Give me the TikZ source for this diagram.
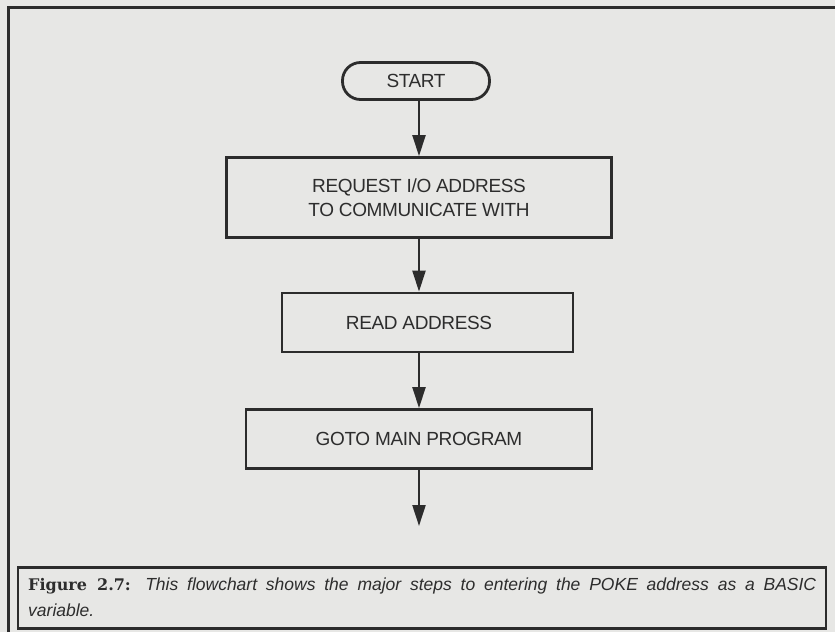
\documentclass[tikz,border=0pt]{standalone}
\usepackage{fontspec}
\setmainfont{Liberation Sans}
\newfontfamily\boxfont[LetterSpace=-2]{Liberation Sans}
\newfontfamily\capserif{DejaVu Serif}
\usetikzlibrary{arrows.meta}
\definecolor{paper}{RGB}{231,231,229}
\definecolor{ink}{RGB}{44,44,44}
\definecolor{txt}{RGB}{45,45,45}
\begin{document}
\begin{tikzpicture}[x=1pt,y=-1pt,
  box/.style={draw=ink, line width=2.8pt, fill=paper, text=txt,
    font=\boxfont\fontsize{19}{24}\selectfont, align=center, inner sep=0pt},
  flow/.style={draw=ink, line width=2.2pt, -{Triangle[length=21pt,width=13pt]}},
  capbox/.style={draw=ink, line width=2.2pt, minimum width=808pt, minimum height=61pt, inner sep=0pt},
]
\fill[paper] (0,0) rectangle (835,632);
\useasboundingbox (0,0) rectangle (835,632);
\draw[ink, line width=2.2pt] (8.5,632) -- (8.5,7.5) -- (835,7.5);
\node[box, rounded corners=18pt, minimum width=147pt, minimum height=37pt] (start) at (416,81) {START};
\node[box, minimum width=385pt, minimum height=80pt] (request) at (419,197.5) {REQUEST I/O ADDRESS\\TO COMMUNICATE WITH};
\node[box, minimum width=291pt, minimum height=59pt] (read) at (427.5,322.5) {\kern-17pt READ ADDRESS};
\node[box, minimum width=346pt, minimum height=59pt] (goto) at (419,439) {GOTO MAIN PROGRAM};
\coordinate (out) at (419,526);
\draw[flow] (request.north |- start.south) -- (request.north);
\draw[flow] (request.south) -- (request.south |- read.north);
\draw[flow] (goto.north |- read.south) -- (goto.north);
\draw[flow] (goto.south) -- (out);
\node[capbox] (capbox) at (422,598) {};
\node[anchor=base west, inner sep=0pt, text=txt] (captext) at (28,590)
  {\parbox[t]{788pt}{\fontsize{17.5}{26}\selectfont{\capserif\bfseries\fontsize{16}{26}\selectfont Figure 2.7:} \itshape This flowchart shows the major steps to entering the POKE address as a BASIC\linebreak variable.}};
\end{tikzpicture}
\end{document}
